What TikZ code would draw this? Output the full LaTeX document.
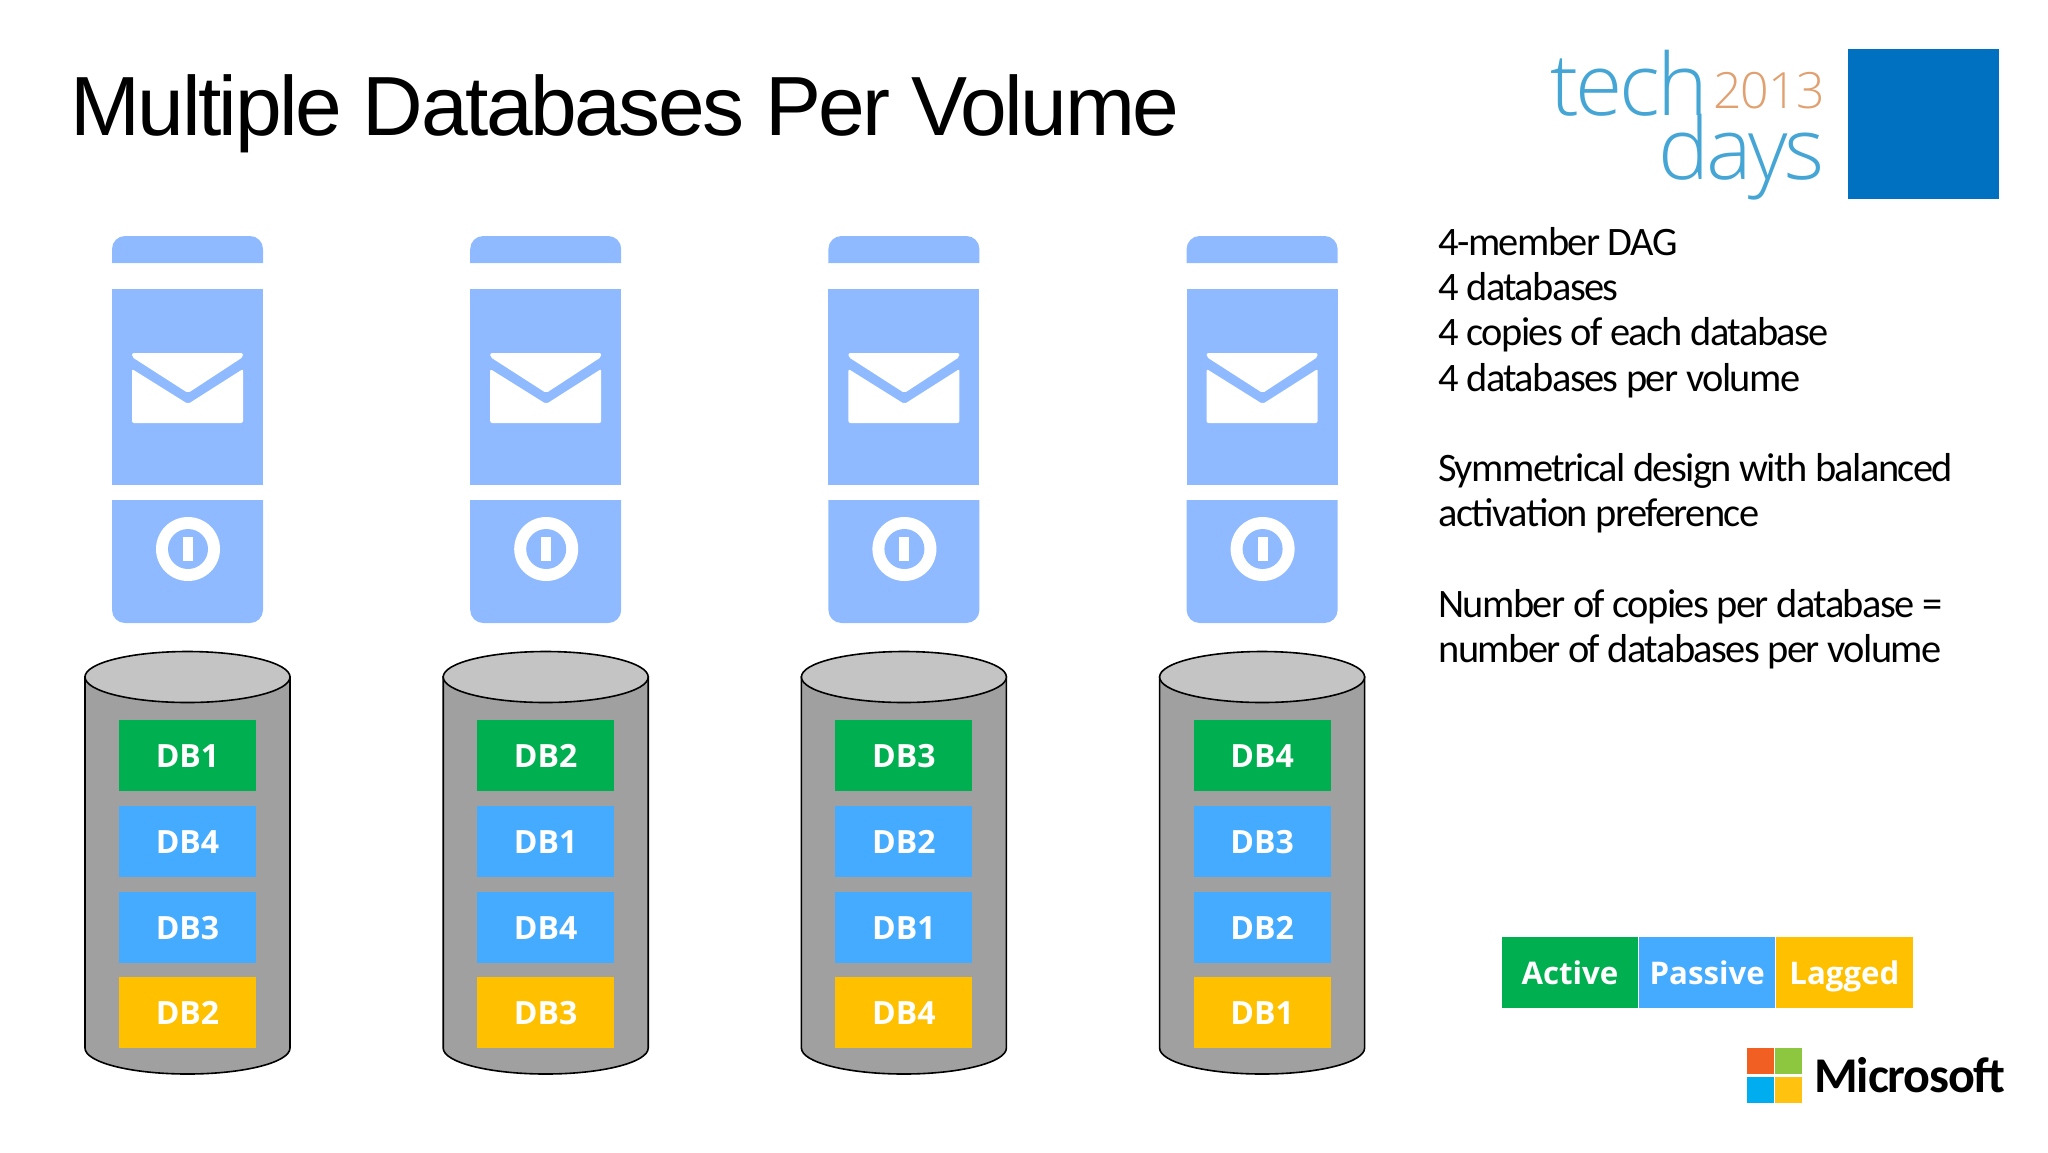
\documentclass[tikz,border=0pt]{standalone}
\usepackage{fontspec}
\setmainfont[LetterSpace=-3.9]{Carlito}
\newfontfamily\titlefont[LetterSpace=-3]{Liberation Sans}
\newfontfamily\boldfont{Open Sans}
\newfontfamily\logofont[LetterSpace=-4]{Open Sans Light}
\newfontfamily\yearfont[LetterSpace=-2]{Open Sans Light}
\newfontfamily\msfont[LetterSpace=-2.4]{Carlito}
\usetikzlibrary{positioning}
\definecolor{srvblue}{HTML}{8FBAFF}
\definecolor{cylside}{HTML}{A0A0A0}
\definecolor{cyltop}{HTML}{C4C4C4}
\definecolor{dbgreen}{HTML}{00B050}
\definecolor{dbblue}{HTML}{45ABFF}
\definecolor{dbgold}{HTML}{FFC000}
\definecolor{techblue}{HTML}{0070C0}
\definecolor{logocyan}{HTML}{45A5D5}
\definecolor{logoorange}{HTML}{E0A070}
\definecolor{msred}{HTML}{F25F22}
\definecolor{msgreen}{HTML}{8DC63F}
\definecolor{mscyan}{HTML}{00AEEF}
\definecolor{msgold}{HTML}{FFC20E}
\tikzset{dbbox/.style={minimum width=68.5pt,minimum height=35.5pt,inner sep=0pt,text height=12pt,text depth=0pt,text=white,font=\boldfont\fontsize{16}{16}\selectfont\bfseries}}
\tikzset{dbactive/.style={dbbox,fill=dbgreen}}
\tikzset{dbpassive/.style={dbbox,fill=dbblue}}
\tikzset{dblagged/.style={dbbox,fill=dbgold}}
\tikzset{keybox/.style={dbbox,minimum width=68.2pt,font=\boldfont\fontsize{15.6}{15.6}\selectfont\bfseries}}
\tikzset{infotext/.style={anchor=base west,inner sep=0pt,align=left,text=black,font=\fontsize{20.2}{22.6}\selectfont}}

\begin{document}
\begin{tikzpicture}[x=0.5pt,y=-0.5pt]
    \useasboundingbox (0,0) rectangle (2048,1152);
    \node[anchor=base west,inner sep=0pt,font=\titlefont\fontsize{42}{42}\selectfont] (title) at (70,135) {Multiple Databases Per Volume};
    % one server and one volume per member
    \foreach \col/\dba/\dbb/\dbc/\dbd in {0/DB1/DB4/DB3/DB2,1/DB2/DB1/DB4/DB3,2/DB3/DB2/DB1/DB4,3/DB4/DB3/DB2/DB1}{
        \begin{scope}[xshift=\col*179.1pt]
            \fill[srvblue,rounded corners=6.5pt] (112,263) -- (112,236) -- (263,236) -- (263,263);
            \fill[srvblue] (112,289) rectangle (263,485);
            \fill[srvblue,rounded corners=6.5pt] (112,500) -- (112,623) -- (263,623) -- (263,500);
            \fill[white,rounded corners=1pt] (132,353) -- (243,353) -- (243,357) -- (188,393) -- (132,357) -- cycle;
            \fill[white,rounded corners=1pt] (132,369) -- (188,404) -- (243,369) -- (243,423) -- (132,423) -- cycle;
            \fill[white] (188,549) circle[radius=32];
            \fill[srvblue] (188,549) circle[radius=20];
            \fill[white] (183,537) rectangle (193,561);
            \draw[fill=cylside,line width=0.8pt] (85,677) -- (85,1048) arc[start angle=180,end angle=0,x radius=102.5,y radius=26] -- (290,677) -- cycle;
            \draw[fill=cyltop,line width=0.8pt] (187.5,677) ellipse[x radius=102.5,y radius=25.5];
            \node[dbactive] (a\col) at (187.5,755.5) {\dba};
            \node[dbpassive] (b\col) at (187.5,841) {\dbb};
            \node[dbpassive] (c\col) at (187.5,927) {\dbc};
            \node[dblagged] (d\col) at (187.5,1012.5) {\dbd};
        \end{scope}
    }
    \node[infotext] (facts) at (1438,391) {4-member DAG\\4 databases\\4 copies of each database\\4 databases per volume};
    \node[infotext] (design) at (1438,526.5) {Symmetrical design with balanced\\activation preference};
    \node[infotext] (ratio) at (1438,662.5) {Number of copies per database =\\number of databases per volume};
    % key
    \node[keybox,fill=dbgreen] (active) at (1570,972.5) {Active};
    \node[keybox,fill=dbblue,right=0pt of active] (passive) {Passive};
    \node[keybox,fill=dbgold,right=0pt of passive] (lagged) {Lagged};
    % tech days logo
    \fill[techblue] (1848,49) rectangle (1999,199);
    \node[anchor=base west,inner sep=0pt,text=logocyan,font=\logofont\fontsize{43}{43}\selectfont] (tech) at (1550,115) {tech};
    \node[anchor=base west,inner sep=0pt,text=logoorange,font=\yearfont\fontsize{25}{25}\selectfont] (year) at (1713,108) {2013};
    \node[anchor=base west,inner sep=0pt,text=logocyan,font=\logofont\fontsize{43}{43}\selectfont] (days) at (1658,179) {days};
    % microsoft logo
    \fill[msred] (1747,1048) rectangle (1773.5,1074);
    \fill[msgreen] (1775,1048) rectangle (1802,1074);
    \fill[mscyan] (1747,1077) rectangle (1773.5,1103);
    \fill[msgold] (1775,1077) rectangle (1802,1103);
    \node[anchor=base west,inner sep=0pt,font=\msfont\fontsize{25}{25}\selectfont\bfseries] (msft) at (1814,1092) {Microsoft};
\end{tikzpicture}
\end{document}
